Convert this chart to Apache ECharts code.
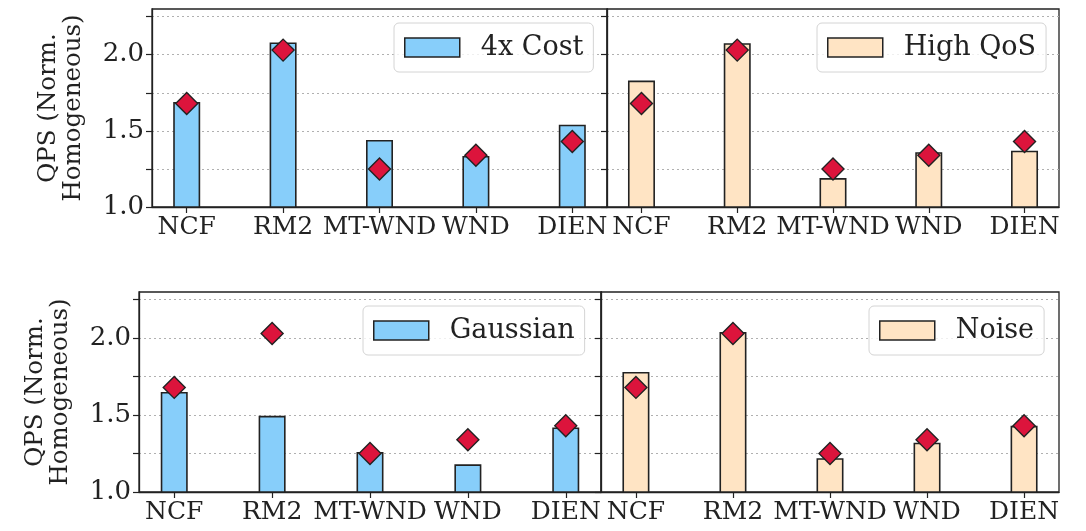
<!DOCTYPE html>
<html>
<head>
<meta charset="utf-8">
<script src="https://cdn.jsdelivr.net/npm/echarts@6/dist/echarts.min.js"></script>
<style>
  html, body { margin: 0; padding: 0; background: #fff; }
  #chart { width: 1086px; height: 531px; }
</style>
</head>
<body>
<div id="chart"></div>
<script>
const categories = ['NCF', 'RM2', 'MT-WND', 'WND', 'DIEN']
const ideal = [1.68, 2.03, 1.25, 1.34, 1.43]
const cost4x = [1.69, 2.08, 1.44, 1.335, 1.54]
const highQos = [1.83, 2.075, 1.19, 1.36, 1.37]
const gaussian = [1.65, 1.495, 1.26, 1.18, 1.42]
const noise = [1.78, 2.04, 1.22, 1.32, 1.43]
const yLabels = [1.0, 1.5, 2.0]
const yTicks = [1.0, 1.25, 1.5, 1.75, 2.0, 2.25]

const FONT = 'DejaVu Serif'
const EDGE = '#222'
const BLUE = '#87CEFA'
const BEIGE = '#FFE4C4'

const panels = [
  { name: '4x Cost', data: cost4x, color: BLUE, grid: { left: 152, top: 9, width: 455, height: 198 }, legend: { left: 394, top: 23 } },
  { name: 'High QoS', data: highQos, color: BEIGE, grid: { left: 607, top: 9, width: 452, height: 198 }, legend: { left: 817, top: 23 } },
  { name: 'Gaussian', data: gaussian, color: BLUE, grid: { left: 139, top: 292, width: 462, height: 200 }, legend: { left: 363, top: 306 } },
  { name: 'Noise', data: noise, color: BEIGE, grid: { left: 601, top: 292, width: 458, height: 200 }, legend: { left: 869, top: 306 } }
]

const chart = echarts.init(document.getElementById('chart'))

const grids = []
const xAxes = []
const yAxes = []
const series = []
const legends = []

panels.forEach((p, i) => {
  grids.push(Object.assign({ show: true, borderColor: EDGE, borderWidth: 1.3, backgroundColor: 'transparent' }, p.grid))
  xAxes.push({
    type: 'value',
    gridIndex: i,
    min: -0.36,
    max: 4.36,
    axisLine: { show: true, onZero: false, lineStyle: { color: EDGE, width: 1.3 } },
    splitLine: { show: false },
    axisTick: { show: true, customValues: [0, 1, 2, 3, 4], length: 6, lineStyle: { color: EDGE, width: 1.2 } },
    axisLabel: {
      customValues: [0, 1, 2, 3, 4],
      formatter: v => categories[Math.round(v)],
      fontFamily: FONT,
      fontSize: 25,
      color: '#222',
      margin: 8
    }
  })
  yAxes.push({
    type: 'value',
    gridIndex: i,
    min: 1.0,
    max: 2.3,
    interval: 0.25,
    name: i % 2 === 0 ? 'QPS (Norm.\nHomogeneous)' : '',
    nameLocation: 'middle',
    nameRotate: 90,
    nameGap: 66,
    nameTextStyle: { fontFamily: FONT, fontSize: 24.5, lineHeight: 25, color: '#222' },
    axisLine: { show: true, onZero: false, lineStyle: { color: EDGE, width: 1.3 } },
    axisTick: { show: true, customValues: yTicks, length: 6, lineStyle: { color: EDGE, width: 1.2 } },
    axisLabel: {
      show: i % 2 === 0,
      customValues: yLabels,
      formatter: v => v.toFixed(1),
      fontFamily: FONT,
      fontSize: 26,
      color: '#222',
      margin: 8
    },
    splitLine: { show: true, lineStyle: { color: '#b0b0b0', type: [2, 3], width: 1 } }
  })
  series.push({
    name: p.name,
    type: 'bar',
    xAxisIndex: i,
    yAxisIndex: i,
    barWidth: 27,
    data: p.data.map((v, k) => [k, v]),
    itemStyle: { color: p.color, borderColor: EDGE, borderWidth: 1.6 },
    z: 2
  })
  series.push({
    name: 'ideal' + i,
    type: 'scatter',
    xAxisIndex: i,
    yAxisIndex: i,
    symbol: 'diamond',
    symbolSize: 22,
    data: ideal.map((v, k) => [k, v]),
    itemStyle: { color: '#DC143C', borderColor: EDGE, borderWidth: 1.4, opacity: 1 },
    z: 3
  })
  legends.push({
    data: [{ name: p.name, icon: 'rect' }],
    left: p.legend.left,
    top: p.legend.top,
    orient: 'horizontal',
    selectedMode: false,
    backgroundColor: 'rgba(255,255,255,0.8)',
    borderColor: '#d4d4d4',
    borderWidth: 1,
    borderRadius: 5,
    padding: [11, 10, 11, 10],
    itemWidth: 55,
    itemHeight: 19,
    itemStyle: { borderColor: EDGE, borderWidth: 1.5 },
    textStyle: { fontFamily: FONT, fontSize: 27, color: '#222', lineHeight: 25, padding: [0, 0, 0, 16] }
  })
})

const option = {
  backgroundColor: '#fff',
  animation: false,
  grid: grids,
  xAxis: xAxes,
  yAxis: yAxes,
  legend: legends,
  series: series
}

chart.setOption(option)

window.onresize = () => {
  chart.resize()
}
</script>
</body>
</html>
